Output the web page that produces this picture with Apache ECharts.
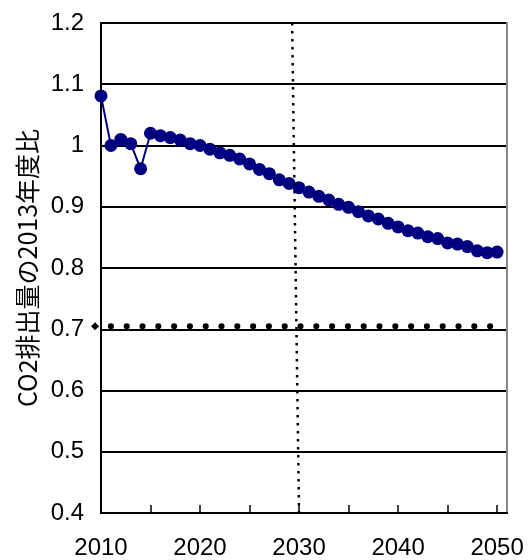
<!DOCTYPE html>
<html><head><meta charset="utf-8">
<script src="https://cdn.jsdelivr.net/npm/echarts@6/dist/echarts.min.js"></script>
<style>html,body{margin:0;padding:0;background:#fff}#c{width:531px;height:560px}</style>
</head><body><div id="c"></div>
<script>
const years = [2010,2011,2012,2013,2014,2015,2016,2017,2018,2019,2020,2021,2022,2023,2024,2025,2026,2027,2028,2029,2030,2031,2032,2033,2034,2035,2036,2037,2038,2039,2040,2041,2042,2043,2044,2045,2046,2047,2048,2049,2050];
const ratio = [1.081,1.000,1.010,1.003,0.962,1.020,1.016,1.013,1.009,1.003,1.000,0.994,0.988,0.984,0.978,0.970,0.961,0.954,0.944,0.938,0.931,0.924,0.917,0.911,0.904,0.899,0.892,0.885,0.880,0.873,0.867,0.861,0.857,0.851,0.848,0.841,0.839,0.835,0.828,0.825,0.826];
const targetLine = [[2009.4,0.705],[2049.7,0.705]];
const markerLine = [[2029.3,1.2],[2030.0,0.4]];
const xTickYears = [2010,2015,2020,2025,2030,2035,2040,2045,2050];
const xLabelYears = [2010,2020,2030,2040,2050];
const yTitle = 'CO2排出量の2013年度比';

const font = "'Liberation Sans', Arial, sans-serif";
const chart = echarts.init(document.getElementById('c'), null, {renderer:'canvas'});
chart.setOption({
  animation: false,
  backgroundColor: '#fff',
  grid: {left: 101, right: 24, top: 23, bottom: 46},
  xAxis: {
    type: 'value', min: 2010, max: 2051,
    axisLine: {lineStyle: {color: '#000', width: 2}},
    axisTick: {inside: true, length: 8, customValues: xTickYears, lineStyle: {color: '#000', width: 1.5}},
    axisLabel: {customValues: xLabelYears, color: '#000', fontSize: 24, fontFamily: font, margin: 23,
      formatter: v => String(Math.round(v))},
    splitLine: {show: false}
  },
  yAxis: [{
    type: 'value', min: 0.4, max: 1.2, interval: 0.1,
    name: yTitle, nameLocation: 'middle', nameGap: 58,
    nameTextStyle: {color: '#000', fontSize: 25, fontFamily: "'Noto Sans CJK JP', sans-serif"},
    axisLine: {show: true, lineStyle: {color: '#000', width: 2}},
    axisTick: {show: false},
    axisLabel: {color: '#000', fontSize: 24, fontFamily: font, margin: 17,
      formatter: v => (Math.round(v*10)/10).toString()},
    splitLine: {lineStyle: {color: '#000', width: 2}}
  },{
    type: 'value', min: 0.4, max: 1.2, position: 'right',
    axisLine: {show: true, lineStyle: {color: '#888', width: 2}},
    axisTick: {show: false}, axisLabel: {show: false}, splitLine: {show: false}
  }],
  series: [
    {type: 'line', data: years.map((y,i)=>[y, ratio[i]]), symbol: 'circle', symbolSize: 13,
     itemStyle: {color: '#000080'}, lineStyle: {color: '#000080', width: 2}, z: 3},
    {type: 'line', data: targetLine, clip: false,
     symbol: 'diamond', symbolSize: (v, p) => p.dataIndex === 0 ? 8 : 0,
     itemStyle: {color: '#000'},
     lineStyle: {color: '#000', width: 6, type: [0.1, 15.7], cap: 'round'}, z: 4},
    {type: 'line', data: markerLine, symbol: 'none', clip: false,
     lineStyle: {color: '#000', width: 2.5, type: [2.5, 5.5]}, z: 5}
  ]
});
</script></body></html>
